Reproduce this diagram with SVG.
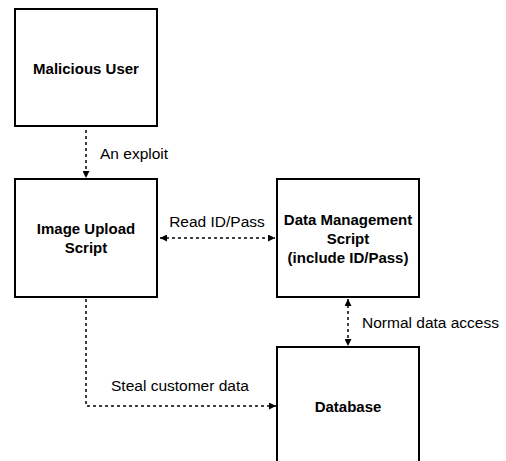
<svg xmlns="http://www.w3.org/2000/svg" width="506" height="461" viewBox="0 0 506 461">
<style>
.box{fill:#fff;stroke:#000;stroke-width:2}
.t{font-family:"Liberation Sans",Arial,sans-serif;font-size:15.5px;fill:#000}
.b{font-weight:bold;text-anchor:middle;font-size:15px}
.c{fill:none;stroke:#000;stroke-width:1.5;stroke-dasharray:3 3}
</style>
<defs>
<marker id="ah" viewBox="0 0 10 10" refX="10" refY="5" markerWidth="7" markerHeight="7" markerUnits="userSpaceOnUse" orient="auto-start-reverse">
<path d="M0,0 L10,5 L0,10 Z" fill="#000"/>
</marker>
</defs>
<rect width="506" height="461" fill="#fff"/>
<g id="connectors">
<line class="c" x1="86" y1="130" x2="86" y2="178" marker-end="url(#ah)"/>
<line class="c" x1="160" y1="238" x2="275" y2="238" marker-start="url(#ah)" marker-end="url(#ah)"/>
<line class="c" x1="348" y1="299" x2="348" y2="346" marker-start="url(#ah)" marker-end="url(#ah)"/>
<polyline class="c" points="86,299 86,406 276,406" marker-end="url(#ah)"/>
<text class="t" x="100" y="159">An exploit</text>
<text class="t" x="217" y="227" text-anchor="middle">Read ID/Pass</text>
<text class="t" x="362" y="328">Normal data access</text>
<text class="t" x="111" y="391">Steal customer data</text>
</g>
<g id="malicious-user">
<rect class="box" x="15" y="9" width="142" height="117"/>
<text class="t b" x="86" y="74">Malicious User</text>
</g>
<g id="image-upload-script">
<rect class="box" x="15" y="179" width="142" height="118"/>
<text class="t b" x="86" y="234">Image Upload</text>
<text class="t b" x="86" y="253">Script</text>
</g>
<g id="data-management-script">
<rect class="box" x="277" y="179" width="142" height="118"/>
<text class="t b" x="348" y="225">Data Management</text>
<text class="t b" x="348" y="244">Script</text>
<text class="t b" x="348" y="263">(include ID/Pass)</text>
</g>
<g id="database">
<rect class="box" x="277" y="347" width="142" height="130"/>
<text class="t b" x="348" y="412">Database</text>
</g>
</svg>
